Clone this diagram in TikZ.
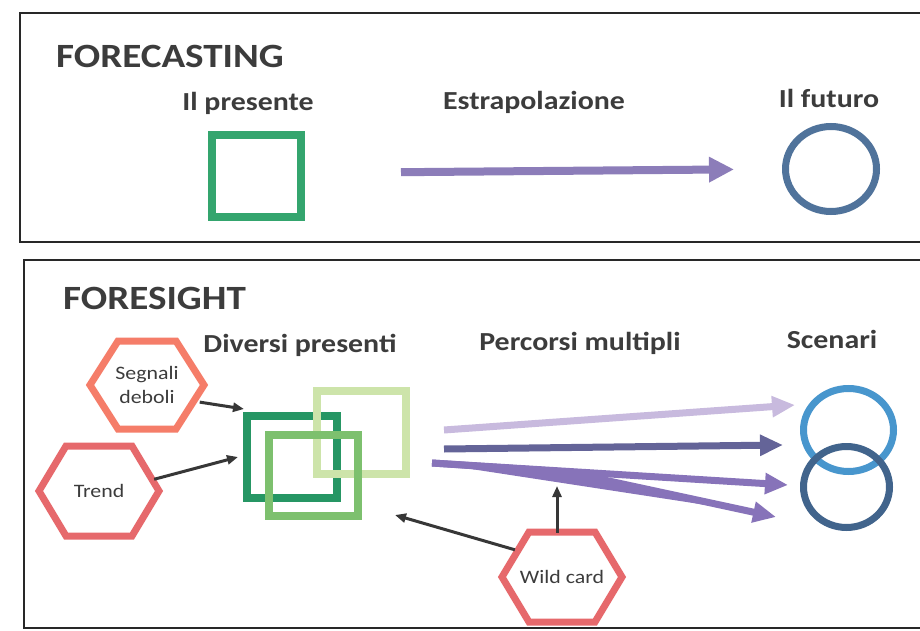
\documentclass[tikz,border=0pt]{standalone}
\usepackage{fontspec}
\setmainfont[FakeStretch=1.15]{Carlito}
\usetikzlibrary{arrows.meta,shapes.geometric,calc}
\definecolor{txt}{RGB}{60,60,60}
\definecolor{frame}{RGB}{40,40,40}
\definecolor{presgreen}{RGB}{52,165,110}
\definecolor{dkgreen}{RGB}{38,150,100}
\definecolor{palegreen}{RGB}{205,228,170}
\definecolor{midgreen}{RGB}{125,192,110}
\definecolor{futblue}{RGB}{80,115,155}
\definecolor{scblue}{RGB}{72,150,205}
\definecolor{scdark}{RGB}{65,100,140}
\definecolor{fcpurple}{RGB}{140,125,185}
\definecolor{lavender}{RGB}{200,186,222}
\definecolor{slate}{RGB}{100,100,152}
\definecolor{purp}{RGB}{135,115,185}
\definecolor{hexsalmon}{RGB}{245,125,105}
\definecolor{hexred}{RGB}{230,105,108}
\definecolor{darkarrow}{RGB}{55,55,55}
\tikzset{
  title/.style={anchor=west,inner sep=0pt,text=txt,font=\fontsize{34}{40}\selectfont\bfseries},
  label/.style={anchor=base,inner sep=0pt,text=txt,font=\fontsize{26}{30}\selectfont\bfseries},
  hexlabel/.style={ellipse,draw=none,minimum width=114pt,minimum height=88pt,inner sep=0pt,
    align=center,text=txt,font=\fontsize{19}{24}\selectfont},
  sqbox/.style={rectangle,draw,line width=8pt,inner sep=0pt},
  ringbox/.style={ellipse,draw,line width=7pt,inner sep=0pt},
  hexline/.style={line width=7pt,line join=miter},
  darrow/.style={draw=darkarrow,line width=3pt,-{Triangle[length=11pt,width=9pt]}},
  parrow/.style={line width=7pt,-{Triangle[length=23pt,width=20pt]}},
}
\begin{document}
\begin{tikzpicture}[x=1pt,y=-1pt]
\useasboundingbox (0,0) rectangle (920,631);
\fill[white] (0,0) rectangle (920,631);
% frames
\draw[frame,line width=1.6pt] (920,13) -- (20,13) -- (20,242) -- (920,242);
\draw[frame,line width=1.6pt] (920,260) -- (24,260) -- (24,628) -- (920,628);
% FORECASTING
\node[title] (tfc) at (56,56) {FORECASTING};
\node[label] (lpres) at (248,111) {Il presente};
\node[label] (lextr) at (534,110) {Estrapolazione};
\node[label] (lfut) at (829,108) {Il futuro};
\node[sqbox,draw=presgreen,minimum width=89pt,minimum height=81pt] (pres) at (256.5,176) {};
\node[ringbox,draw=futblue,minimum width=91pt,minimum height=85pt] (fut) at (831,169) {};
\draw[draw=fcpurple,line width=8pt,-{Triangle[length=25pt,width=24pt]},shorten <=96pt,shorten >=48pt] ([yshift=3pt]pres.east) -- (fut.west);
% FORESIGHT
\node[title] (tfs) at (63,298) {FORESIGHT};
\node[label] (ldiv) at (300,352) {Diversi presenti};
\node[label] (lperc) at (580,350) {Percorsi multipli};
\node[label] (lscen) at (832,348) {Scenari};
% hexagons
\node[hexlabel] (segn) at (147,385) {Segnali\\deboli};
\draw[hexline,draw=hexsalmon,shift={(147,385)}] (-57,0) -- (-29,-44) -- (29,-44) -- (57,0) -- (29,44) -- (-29,44) -- cycle;
\node[hexlabel] (trend) at (99,491) {Trend};
\draw[hexline,draw=hexred,shift={(99,491)}] (-60,0) -- (-33,-45) -- (33,-45) -- (60,0) -- (33,45) -- (-33,45) -- cycle;
\node[hexlabel] (wild) at (562,577) {Wild card};
\draw[hexline,draw=hexred,shift={(562,577)}] (-60,0) -- (-33,-45) -- (33,-45) -- (60,0) -- (33,45) -- (-33,45) -- cycle;
% squares
\node[sqbox,draw=dkgreen,minimum width=90pt,minimum height=82pt] (dsq) at (292,457) {};
\node[sqbox,draw=palegreen,minimum width=89pt,minimum height=83pt] (psq) at (361.5,432.5) {};
\node[sqbox,draw=midgreen,minimum width=89pt,minimum height=81pt] (msq) at (313.5,475.5) {};
% scenario rings
\node[ringbox,draw=scblue,minimum width=90pt,minimum height=83pt] (sc1) at (848.5,430) {};
\node[ringbox,draw=scdark,minimum width=86pt,minimum height=81pt] (sc2) at (846.5,487) {};
% dark arrows
\draw[darrow] (segn.-18) -- ([shift={(1,-3)}]dsq.north west);
\draw[darrow] (trend.12) -- ([xshift=-5pt]dsq.west);
\coordinate (wctarget) at (395,515);
\draw[darrow] (wild.150) -- (wctarget);
\coordinate (wcup) at (557,486);
\draw[darrow] (wild.north -| wcup) -- (wcup);
% purple paths
\coordinate (s1) at (444,430);
\coordinate (e1) at (795,405);
\coordinate (s2) at (444,449);
\coordinate (e2) at (783,445);
\coordinate (s3) at (432,463);
\coordinate (e3) at (788,485);
\coordinate (b4) at (567,472);
\coordinate (e4) at (776,517);
\draw[parrow,draw=lavender,fill=lavender] (s1) -- (e1);
\draw[parrow,draw=slate,fill=slate] (s2) -- (e2);
\draw[parrow,draw=purp,fill=purp] (s3) -- (e3);
\draw[parrow,draw=purp,fill=purp,line join=round] (s3) -- (b4) -- (e4);
\end{tikzpicture}
\end{document}
